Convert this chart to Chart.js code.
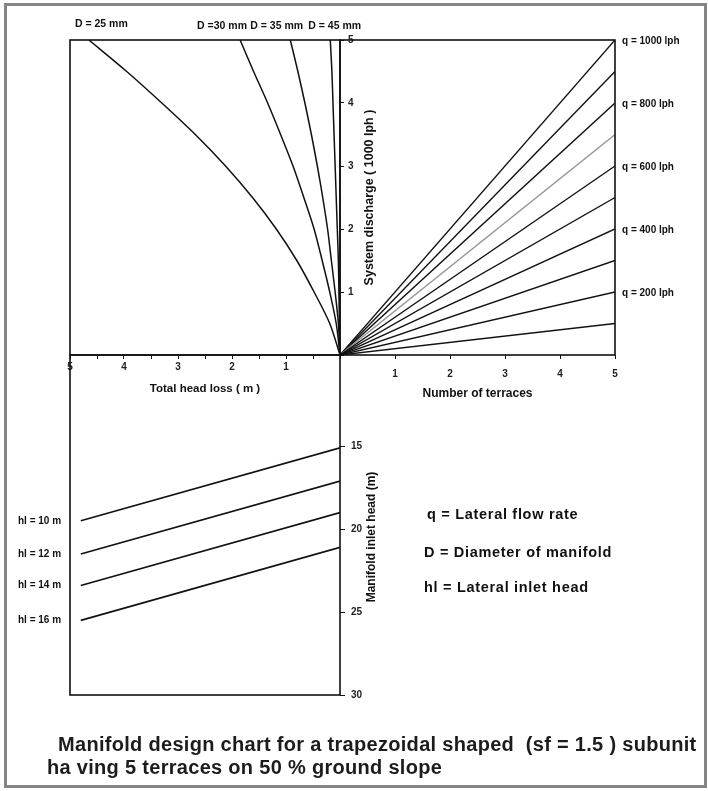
<!DOCTYPE html>
<html><head><meta charset="utf-8">
<script src="https://cdn.jsdelivr.net/npm/chart.js@4.4.0/dist/chart.umd.min.js"></script>
<style>
html,body{margin:0;padding:0;background:#fff;}
#wrap{position:relative;width:708px;height:791px;overflow:hidden;background:#fff;}
canvas{position:absolute;left:0;top:0;}
.txt{position:absolute;white-space:pre;font-family:'Liberation Sans',Arial,sans-serif;color:#111;}
.leg{font-size:14.5px;font-weight:bold;line-height:16px;letter-spacing:0.7px;}
.ttl{font-size:20px;font-weight:bold;line-height:22px;letter-spacing:0.3px;color:#1c1c1c;}
#border{position:absolute;left:4px;top:3px;width:697px;height:779px;border:3px solid #858585;}
</style></head><body>
<div id="wrap">
<div id="border"></div>
<canvas id="cA" width="708" height="791"></canvas>
<canvas id="cB" width="708" height="791"></canvas>
<canvas id="cC" width="708" height="791"></canvas>
<div class="txt leg" style="left:427px;top:506px;">q = Lateral flow rate</div>
<div class="txt leg" style="left:424px;top:544px;">D = Diameter of manifold</div>
<div class="txt leg" style="left:424px;top:579px;">hl = Lateral inlet head</div>
<div class="txt ttl" style="left:58px;top:733px;">Manifold design chart for a trapezoidal shaped  (sf = 1.5 ) subunit</div>
<div class="txt ttl" style="left:47px;top:756px;">ha ving 5 terraces on 50 % ground slope</div>
</div>
<script>
// ---------- DATA ----------
// Top-left quadrant: total head loss (m) vs system discharge (1000 lph) per manifold diameter
const dischargeLevels = [0, 0.5, 1, 1.5, 2, 2.5, 3, 3.5, 4, 4.5, 5];
const diameterLabels = ['D = 25 mm', 'D =30 mm', 'D = 35 mm', 'D = 45 mm'];
const headLossD25 = [0, 0.19, 0.48, 0.8, 1.18, 1.62, 2.12, 2.68, 3.3, 3.95, 4.65];
const headLossD30 = [0, 0.07, 0.19, 0.33, 0.48, 0.67, 0.87, 1.1, 1.34, 1.6, 1.85];
const headLossD35 = [0, 0.03, 0.09, 0.16, 0.23, 0.32, 0.42, 0.53, 0.65, 0.78, 0.92];
const headLossD45 = [0, 0.01, 0.02, 0.03, 0.05, 0.07, 0.09, 0.11, 0.13, 0.15, 0.18];

// Top-right quadrant: number of terraces vs system discharge per lateral flow rate
const lateralFlows = [100, 200, 300, 400, 500, 600, 700, 800, 900, 1000];
const terraceRange = [0, 5];
const dischargeAtFiveTerraces = [0.5, 1, 1.5, 2, 2.5, 3, 3.5, 4, 4.5, 5];
const labelledFlows = [1000, 800, 600, 400, 200];

// Bottom-left quadrant: total head loss vs manifold inlet head per lateral inlet head
const hlLabels = ['hl = 10 m', 'hl = 12 m', 'hl = 14 m', 'hl = 16 m'];
const hlHeadLossRange = [4.8, 0];
const inletHeadAtStart = [19.5, 21.5, 23.4, 25.5];
const inletHeadAtEnd = [15.1, 17.1, 19.0, 21.1];

// Tick labels
const headLossTicks = [1, 2, 3, 4, 5];
const dischargeTicks = [1, 2, 3, 4, 5];
const terraceTicks = [1, 2, 3, 4, 5];
const inletHeadTicks = [15, 20, 25, 30];

// ---------- STYLE / LAYOUT ----------
const FONT = "'Liberation Sans', Arial, sans-serif";
const INK = '#111';
const W = 708, H = 791;
const AX_X = 340, AX_Y = 355, LEFT = 70, TOP = 40, RIGHT = 615, BOTTOM = 695;
const diameterLabelDx = [-14, -43, -40, -22];
const flowLineColors = lateralFlows.map(q => q === 700 ? '#9a9a9a' : INK);

function frame(ctx, a) {
  ctx.save();
  ctx.strokeStyle = INK; ctx.lineWidth = 1.6;
  ctx.strokeRect(a.left, a.top, a.right - a.left, a.bottom - a.top);
  ctx.restore();
}
function tickFont(sz) { return {family: FONT, size: sz || 10, weight: 'bold'}; }
const baseOpts = {responsive: false, animation: false, events: [],
  plugins: {legend: {display: false}, tooltip: {enabled: false}}};

// ---------- CHART A: head loss vs discharge ----------
const curves = [headLossD25, headLossD30, headLossD35, headLossD45];
new Chart(document.getElementById('cA'), {
  type: 'scatter',
  data: {datasets: curves.map((hl, i) => ({
    label: diameterLabels[i],
    data: dischargeLevels.map((q, j) => ({x: hl[j], y: q})),
    showLine: true, borderColor: INK, borderWidth: 1.5, pointRadius: 0, tension: 0.3, fill: false
  }))},
  options: Object.assign({}, baseOpts, {
    layout: {padding: {left: LEFT, right: W - AX_X - 30, top: TOP, bottom: H - AX_Y - 45}},
    scales: {
      x: {type: 'linear', reverse: true, min: 0, max: 5, position: 'bottom',
        afterFit: s => { s.height = 45; },
        ticks: {stepSize: 0.5, autoSkip: false, maxRotation: 0, padding: 2,
          callback: v => headLossTicks.includes(v) ? String(v) : '',
          font: tickFont(10), color: '#222'},
        grid: {drawOnChartArea: false, tickLength: 4, color: INK},
        border: {display: false},
        title: {display: true, text: 'Total head loss ( m )', font: tickFont(11.5), color: INK,
          padding: {top: 0, bottom: 4}}},
      y: {type: 'linear', min: 0, max: 5, position: 'right',
        afterFit: s => { s.width = 30; },
        ticks: {stepSize: 1, padding: 4, callback: v => dischargeTicks.includes(v) ? String(v) : '',
          font: tickFont(10), color: '#222'},
        grid: {drawOnChartArea: false, tickLength: 4, color: INK},
        border: {display: false}}
    }
  }),
  plugins: [{id: 'decoA', afterDraw(chart) {
    const {ctx, chartArea: a, scales: {x}} = chart;
    frame(ctx, a);
    ctx.save();
    ctx.fillStyle = INK; ctx.font = 'bold 10.5px ' + FONT; ctx.textBaseline = 'middle'; ctx.textAlign = 'left';
    curves.forEach((hl, i) => {
      const px = x.getPixelForValue(hl[hl.length - 1]);
      ctx.fillText(diameterLabels[i], px + diameterLabelDx[i], i === 0 ? 24 : 26);
    });
    ctx.translate(a.right + 30, (a.top + a.bottom) / 2);
    ctx.rotate(-Math.PI / 2);
    ctx.textAlign = 'center';
    ctx.font = 'bold 12.5px ' + FONT;
    ctx.fillText('System discharge ( 1000 lph )', 0, 0);
    ctx.restore();
  }}]
});

// ---------- CHART B: terraces vs discharge ----------
new Chart(document.getElementById('cB'), {
  type: 'scatter',
  data: {datasets: lateralFlows.map((q, i) => ({
    label: 'q = ' + q + ' lph',
    data: [{x: terraceRange[0], y: 0}, {x: terraceRange[1], y: dischargeAtFiveTerraces[i]}],
    showLine: true, borderColor: flowLineColors[i], borderWidth: 1.4, pointRadius: 0, fill: false
  }))},
  options: Object.assign({}, baseOpts, {
    layout: {padding: {left: AX_X, right: W - RIGHT, top: TOP, bottom: H - AX_Y - 50}},
    scales: {
      x: {type: 'linear', min: 0, max: 5, position: 'bottom',
        afterFit: s => { s.height = 50; },
        ticks: {stepSize: 1, padding: 9, callback: v => terraceTicks.includes(v) ? String(v) : '',
          font: tickFont(10), color: '#222'},
        grid: {drawOnChartArea: false, tickLength: 4, color: INK},
        border: {display: false},
        title: {display: true, text: 'Number of terraces', font: tickFont(12), color: INK,
          padding: {top: 0, bottom: 4}}},
      y: {type: 'linear', min: 0, max: 5, display: false}
    }
  }),
  plugins: [{id: 'decoB', afterDraw(chart) {
    const {ctx, chartArea: a, scales: {y}} = chart;
    frame(ctx, a);
    ctx.save();
    ctx.fillStyle = INK; ctx.font = 'bold 10px ' + FONT; ctx.textBaseline = 'middle'; ctx.textAlign = 'left';
    labelledFlows.forEach(q => {
      const i = lateralFlows.indexOf(q);
      ctx.fillText('q = ' + q + ' lph', a.right + 7, y.getPixelForValue(dischargeAtFiveTerraces[i]) + 1);
    });
    ctx.restore();
  }}]
});

// ---------- CHART C: head loss vs manifold inlet head ----------
new Chart(document.getElementById('cC'), {
  type: 'scatter',
  data: {datasets: hlLabels.map((lab, i) => ({
    label: lab,
    data: [{x: hlHeadLossRange[0], y: inletHeadAtStart[i]}, {x: hlHeadLossRange[1], y: inletHeadAtEnd[i]}],
    showLine: true, borderColor: INK, borderWidth: 1.6, pointRadius: 0, fill: false
  }))},
  options: Object.assign({}, baseOpts, {
    layout: {padding: {left: LEFT, right: W - AX_X - 30, top: AX_Y, bottom: H - BOTTOM}},
    scales: {
      x: {type: 'linear', reverse: true, min: 0, max: 5, display: false},
      y: {type: 'linear', reverse: true, min: 9.5, max: 30, position: 'right',
        afterFit: s => { s.width = 30; },
        afterBuildTicks: s => { s.ticks = inletHeadTicks.map(v => ({value: v})); },
        ticks: {padding: 6, font: tickFont(10), color: '#222'},
        grid: {drawOnChartArea: false, tickLength: 5, color: INK},
        border: {display: false}}
    }
  }),
  plugins: [{id: 'decoC', afterDraw(chart) {
    const {ctx, chartArea: a, scales: {y}} = chart;
    ctx.save();
    ctx.fillStyle = INK; ctx.font = 'bold 10px ' + FONT; ctx.textBaseline = 'middle'; ctx.textAlign = 'left';
    hlLabels.forEach((lab, i) => {
      ctx.fillText(lab, 18, y.getPixelForValue(inletHeadAtStart[i]));
    });
    ctx.translate(a.right + 32, a.top + 182);
    ctx.rotate(-Math.PI / 2);
    ctx.textAlign = 'center';
    ctx.font = 'bold 12px ' + FONT;
    ctx.fillText('Manifold inlet head (m)', 0, 0);
    ctx.restore();
    frame(ctx, a);
  }}]
});
</script>
</body></html>
